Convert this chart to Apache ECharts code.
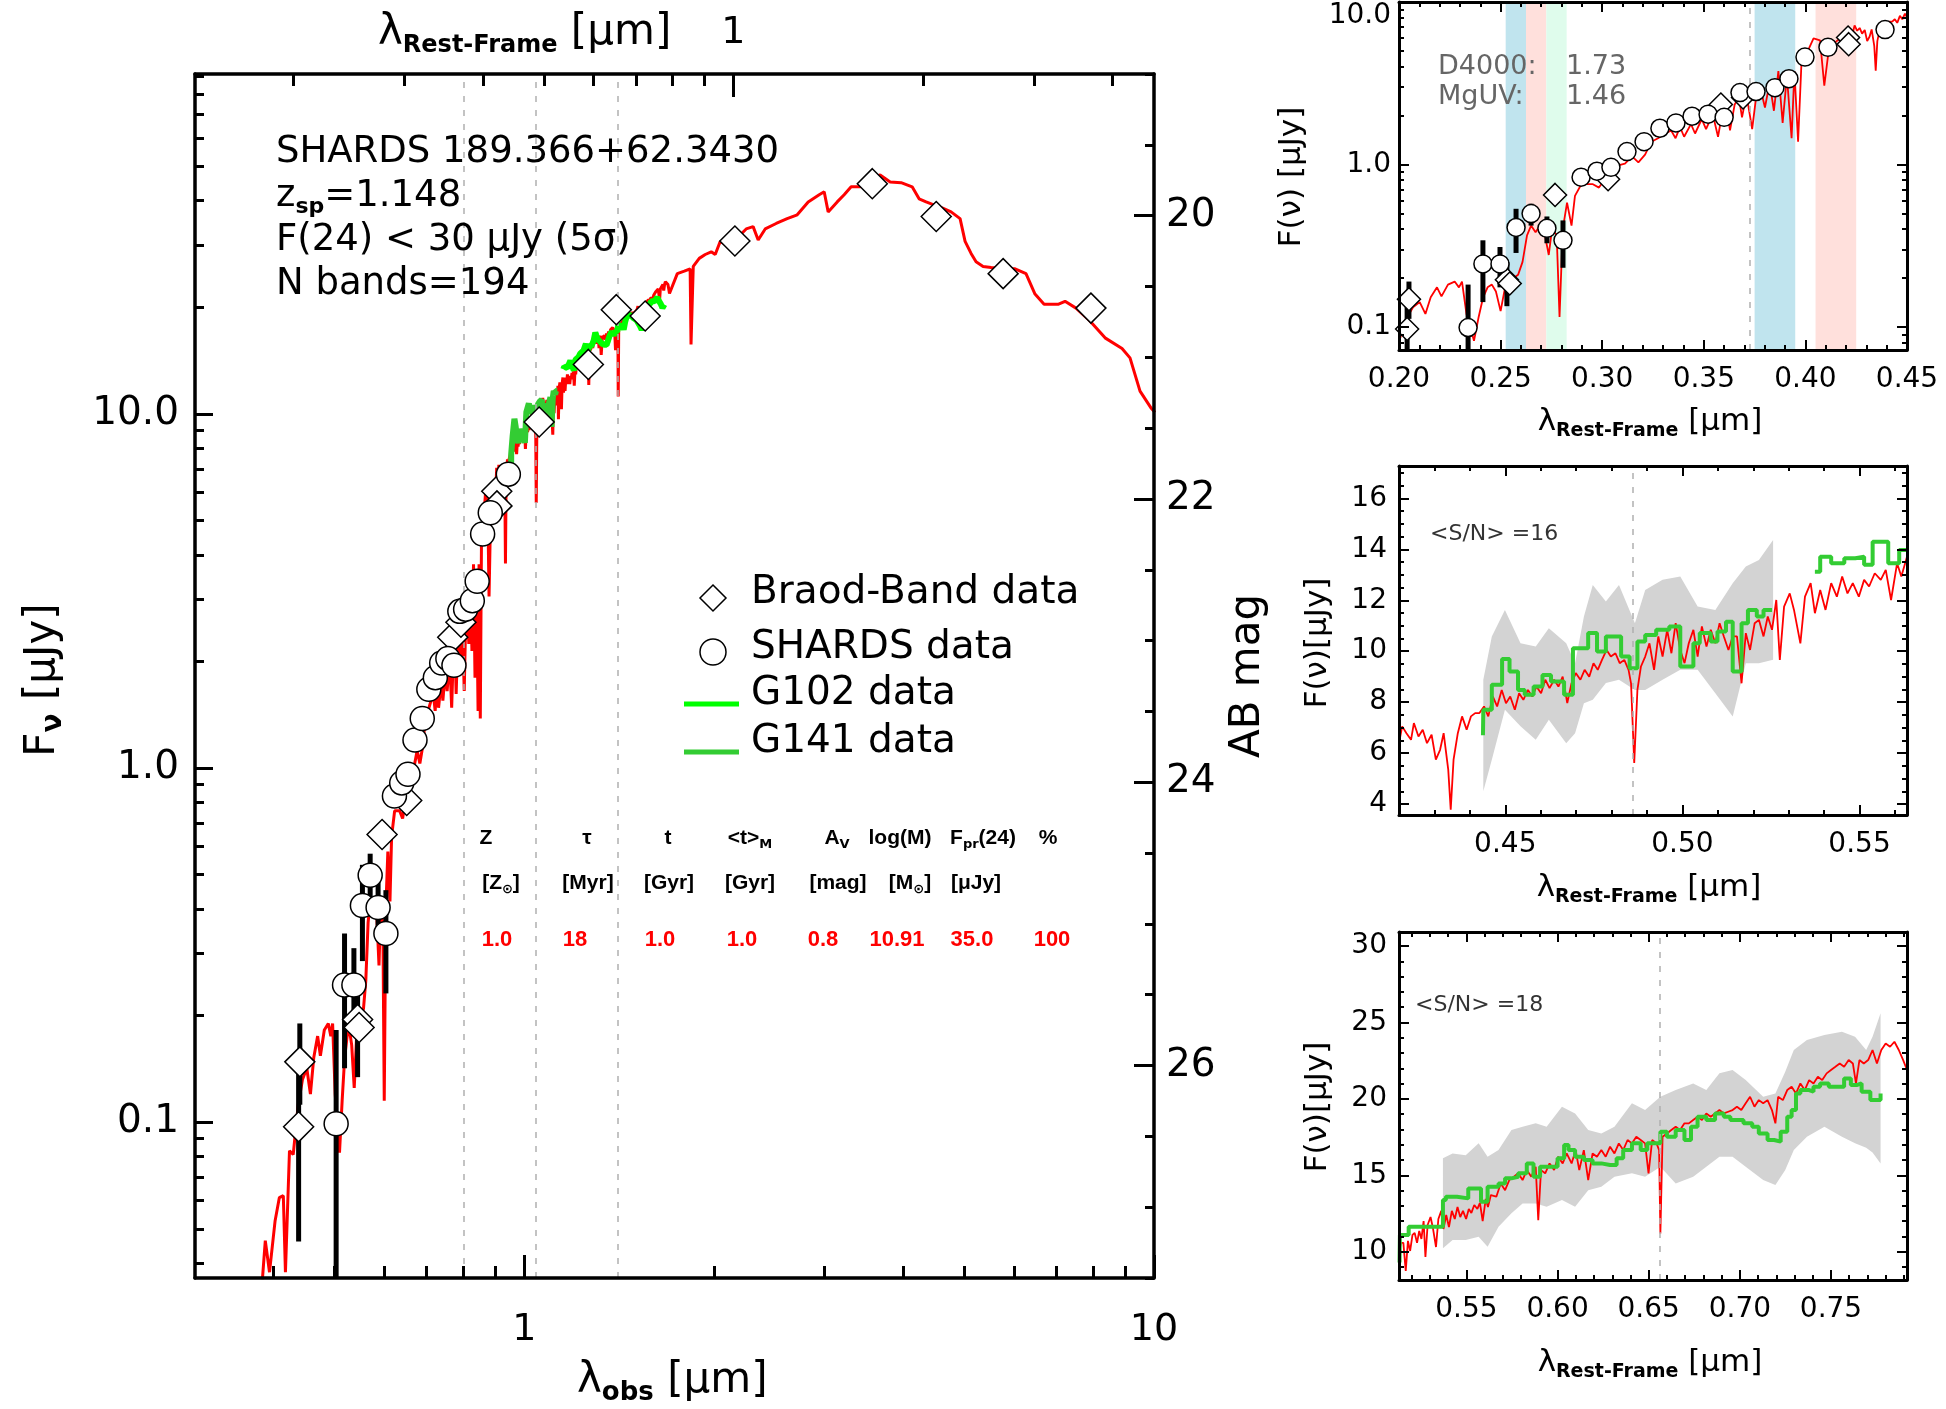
<!DOCTYPE html>
<html><head><meta charset="utf-8">
<script src="https://cdn.jsdelivr.net/npm/echarts@6.0.0/dist/echarts.min.js"></script>
<style>html,body{margin:0;padding:0;background:#fff}#c{width:1946px;height:1409px}</style>
</head><body><div id="c"></div>
<script>
// ---------------- DATA ----------------
const Z = 1.148;
// model SED (rest-frame micron, microJy)
const modelHead = [[0.1787,0.036],[0.1806,0.0463],[0.1834,0.0377],[0.1872,0.0527],[0.1901,0.0612],[0.1929,0.062],[0.1944,0.0377],[0.1973,0.083]];
const modelUV = [[0.2000,0.081],[0.2037,0.112],[0.2069,0.132],[0.2102,0.142],[0.2130,0.120],[0.2156,0.152],[0.2187,0.175],[0.2209,0.154],[0.2241,0.182],[0.2274,0.190],[0.2295,0.175],[0.2310,0.190],[0.2332,0.120],[0.2350,0.100],[0.2369,0.082],[0.2392,0.115],[0.2414,0.152],[0.2436,0.175],[0.2457,0.182],[0.2477,0.165],[0.2500,0.125],[0.2522,0.175],[0.2554,0.195],[0.2586,0.209],[0.2608,0.251],[0.2630,0.366],[0.2650,0.420],[0.2672,0.382],[0.2694,0.420],[0.2714,0.390],[0.2737,0.277],[0.2753,0.400],[0.2776,0.366],[0.2790,0.115],[0.2806,0.400],[0.2827,0.581],[0.2849,0.420],[0.2866,0.640],[0.2898,0.757],[0.2952,0.757],[0.2984,0.720],[0.3017,0.822],[0.3060,0.972],[0.3112,1.01],[0.3147,1.12],[0.3178,1.03],[0.3211,1.15],[0.3242,1.38],[0.3275,1.45],[0.3307,1.54],[0.3339,1.62],[0.3361,1.45],[0.3383,1.70],[0.3403,1.48],[0.3437,1.77],[0.3457,1.55],[0.3490,1.90],[0.3511,1.65],[0.3544,2.04],[0.3570,1.48],[0.3587,1.95],[0.3614,2.18],[0.3629,1.62],[0.3652,2.34],[0.3673,2.58],[0.3688,1.95],[0.3710,2.69],[0.3738,1.65],[0.3759,2.69],[0.3781,2.85],[0.3801,2.24],[0.3824,3.19],[0.3845,2.14],[0.3867,3.76],[0.3888,1.80],[0.3909,3.50],[0.3932,1.45],[0.3946,3.76],[0.3964,1.38],[0.3981,4.33],[0.4007,4.84],[0.4040,5.97],[0.4072,5.80],[0.4093,3.05],[0.4116,5.20],[0.4158,5.80]];
const modelMid = [[0.4200,6.39],[0.4209,7.05],[0.4221,6.78],[0.4234,6.52],[0.4242,7.18],[0.4255,6.65],[0.4267,6.92],[0.4279,6.39],[0.4292,6.72],[0.4304,5.74],[0.4316,6.13],[0.4326,6.78],[0.4339,5.35],[0.4346,3.78],[0.4354,5.74],[0.4366,6.78],[0.4378,7.44],[0.4391,6.92],[0.4403,7.44],[0.4415,7.57],[0.4427,7.57],[0.4440,7.83],[0.4452,7.44],[0.4465,8.22],[0.4477,7.83],[0.4490,8.48],[0.4502,7.96],[0.4514,8.22],[0.4527,7.70],[0.4539,8.35],[0.4551,8.09],[0.4564,8.48],[0.4576,8.22],[0.4588,8.61],[0.4601,8.35],[0.4613,8.88],[0.4625,8.55],[0.4638,8.88],[0.4650,8.61],[0.4662,9.00],[0.4675,7.96],[0.4687,8.74],[0.4699,9.14],[0.4712,8.88],[0.4724,9.27],[0.4737,9.00],[0.4749,9.53],[0.4761,9.27],[0.4773,9.66],[0.4786,10.05],[0.4798,9.79],[0.4811,9.92],[0.4823,9.53],[0.4836,9.66],[0.4848,9.27],[0.4855,8.74],[0.4864,5.61],[0.4873,8.48],[0.4883,9.40],[0.4895,9.79],[0.4907,10.31],[0.4920,9.27],[0.4932,10.58],[0.4944,9.79],[0.4957,10.84],[0.4969,9.92],[0.4981,11.10],[0.4994,10.05],[0.5006,9.53],[0.5018,10.31],[0.5031,10.84],[0.5043,9.79],[0.5055,10.97],[0.5068,10.18],[0.5080,10.84],[0.5093,10.31],[0.5105,11.10],[0.5117,10.58],[0.5130,10.05],[0.5142,10.58],[0.5154,10.58],[0.5167,8.74],[0.5179,10.71],[0.5191,10.05],[0.5204,11.10],[0.5216,11.23],[0.5229,10.58],[0.5241,11.36],[0.5253,10.84],[0.5265,12.01],[0.5275,9.66],[0.5287,11.75],[0.5303,12.27],[0.5315,11.62],[0.5333,10.31],[0.5346,12.14],[0.5362,12.67],[0.5374,11.49],[0.5389,12.40],[0.5404,11.62],[0.5420,12.67],[0.5436,12.14],[0.5451,12.93],[0.5466,12.27],[0.5481,12.67],[0.5498,12.14],[0.5513,12.80],[0.5527,12.54],[0.5543,13.06],[0.5560,12.80],[0.5574,13.19],[0.5589,12.01],[0.5606,13.45],[0.5618,12.93],[0.5634,13.71]];
const modelBot = [[0.5664,13.60],[0.5688,14.47],[0.5712,14.03],[0.5735,14.69],[0.5760,14.91],[0.5784,15.13],[0.5808,14.69],[0.5831,15.34],[0.5856,14.91],[0.5880,15.56],[0.5894,12.07],[0.5909,15.34],[0.5932,15.13],[0.5956,15.78],[0.5981,15.34],[0.6003,16.22],[0.6028,15.78],[0.6050,16.43],[0.6077,15.78],[0.6099,16.65],[0.6119,15.34],[0.6144,16.65],[0.6168,14.69],[0.6192,16.43],[0.6216,16.22],[0.6240,16.65],[0.6264,16.22],[0.6288,16.87],[0.6312,16.43],[0.6336,17.09],[0.6360,16.65],[0.6384,17.31],[0.6408,17.09],[0.6432,17.52],[0.6456,17.31],[0.6480,17.09],[0.6499,15.13],[0.6519,17.31],[0.6543,17.09],[0.6557,16.65],[0.6564,11.20],[0.6576,17.52],[0.6600,17.74],[0.6624,17.96],[0.6648,18.18],[0.6672,17.96],[0.6696,18.40],[0.6720,18.40],[0.6744,18.62],[0.6768,18.83],[0.6792,18.62],[0.6816,19.05],[0.6840,18.83],[0.6864,19.05],[0.6888,19.27],[0.6912,19.05],[0.6936,19.16],[0.6960,19.27],[0.6984,19.49],[0.7008,19.27],[0.7032,19.71],[0.7056,20.14],[0.7080,19.49],[0.7104,19.92],[0.7128,19.71],[0.7152,19.92],[0.7176,19.27],[0.7195,18.40],[0.7210,20.14],[0.7236,19.92],[0.7260,20.58],[0.7284,20.80],[0.7308,20.36],[0.7332,21.01],[0.7356,20.58],[0.7380,21.23],[0.7404,21.01],[0.7428,21.45],[0.7452,21.23],[0.7476,21.67],[0.7500,21.89],[0.7524,22.10],[0.7548,22.32],[0.7572,22.10],[0.7597,22.54],[0.7620,22.32],[0.7637,21.01],[0.7656,22.54],[0.7680,22.32],[0.7704,22.54],[0.7728,23.20],[0.7752,22.32],[0.7776,23.20],[0.7800,23.63],[0.7824,23.41],[0.7848,23.74],[0.7872,23.20],[0.7896,22.54],[0.7917,21.89]];
const modelTail = [[0.8147,24.9],[0.8357,25.3],[0.8538,25.7],[0.8566,15.7],[0.8636,26.1],[0.8827,27.5],[0.9022,28.2],[0.9223,28.7],[0.9358,28.2],[0.9530,30.7],[0.9739,30.1],[1.0065,31.0],[1.048,33.3],[1.075,33.8],[1.095,31.0],[1.1234,33.3],[1.1695,34.5],[1.2174,35.6],[1.263,36.5],[1.3147,39.7],[1.3687,41.6],[1.3939,42.4],[1.4143,37.2],[1.4618,39.7],[1.4995,41.6],[1.5382,43.8],[1.5898,43.8],[1.6252,45.2],[1.6611,46.1],[1.7104,47.3],[1.7742,45.2],[1.8468,45.0],[1.9227,43.8],[1.9721,40.5],[2.0233,39.7],[2.0764,39.0],[2.1453,38.2],[2.2170,37.2],[2.2910,35.6],[2.3333,30.7],[2.3850,28.4],[2.4288,26.9],[2.4920,26.1],[2.5666,25.9],[2.6806,25.7],[2.8012,25.7],[2.9153,24.9],[3.0130,21.8],[3.1145,20.4],[3.2775,20.4],[3.3627,20.8],[3.5000,19.9],[3.6839,18.3],[3.8925,16.4],[4.1420,15.3],[4.2644,14.4],[4.4236,11.6],[4.6043,10.4],[4.6740,10.1]];
// grism spectra (rest-frame bin start, flux)
const g102Mid = [[0.4437,6.7],[0.4438,7.7],[0.4462,8.68],[0.4491,9.69],[0.4512,9.2],[0.4536,8.48],[0.4555,8.29],[0.4580,8.61],[0.4605,9.07],[0.4629,8.81],[0.4666,8.29],[0.4691,10.12],[0.4734,10.71],[0.4759,9.99],[0.4784,10.58],[0.4827,9.79],[0.4851,9.33],[0.4873,10.38],[0.4895,10.64],[0.4926,10.84],[0.4963,10.97],[0.4994,9.4],[0.5031,10.31],[0.5049,10.71],[0.5080,10.38],[0.5099,10.77],[0.5123,11.16],[0.5142,9.2],[0.5167,11.1],[0.5185,11.62],[0.5210,11.36],[0.5229,11.62],[0.5253,11.62]];
const g141Mid = [[0.5374,13.12],[0.5389,13.71],[0.5420,13.45],[0.5457,13.65],[0.5488,13.71],[0.5513,13.39],[0.5537,14.3],[0.5581,13.45],[0.5612,13.97],[0.5634,13.97]];
const g141Bot = [[0.5133,9.3],[0.5135,11.09],[0.5183,11.64],[0.5256,11.64],[0.5371,13.38],[0.5387,13.6],[0.5448,13.49],[0.5510,14.14],[0.5580,13.27],[0.5616,14.25],[0.5676,14.47],[0.5712,14.8],[0.5747,14.9],[0.5784,15.13],[0.5831,15.78],[0.5868,14.9],[0.5904,15.56],[0.5952,15.56],[0.6000,16.11],[0.6036,16.98],[0.6060,16.65],[0.6096,16.22],[0.6144,16.0],[0.6192,15.78],[0.6240,15.67],[0.6288,15.67],[0.6324,16.11],[0.6360,16.65],[0.6408,17.09],[0.6456,16.65],[0.6492,17.09],[0.6540,17.09],[0.6564,17.85],[0.6600,17.52],[0.6648,17.96],[0.6696,17.31],[0.6732,18.18],[0.6768,18.83],[0.6816,18.62],[0.6864,19.05],[0.6912,18.83],[0.6948,18.62],[0.6984,18.62],[0.7020,18.4],[0.7068,18.18],[0.7104,17.74],[0.7152,17.31],[0.7188,17.2],[0.7224,17.85],[0.7260,18.83],[0.7284,19.27],[0.7308,20.36],[0.7332,20.58],[0.7380,20.47],[0.7404,20.8],[0.7440,21.01],[0.7488,20.8],[0.7536,20.8],[0.7572,21.34],[0.7609,20.91],[0.7644,21.01],[0.7668,20.47],[0.7716,19.92],[0.7772,20.36]];
// grism uncertainty envelopes [rest wave, low, high]
const envMid = [[0.4438,4.5,8.88],[0.4462,5.74,10.58],[0.4499,7.7,11.62],[0.4543,7.05,10.31],[0.4586,6.52,10.18],[0.4623,7.31,10.9],[0.4672,6.39,10.31],[0.4697,6.78,9.53],[0.4722,7.96,11.36],[0.4747,8.09,12.6],[0.4784,8.75,11.95],[0.4821,8.88,12.6],[0.4866,8.48,11.1],[0.4895,8.48,12.4],[0.4944,8.88,12.8],[0.4994,9.27,12.93],[0.5043,9.27,11.75],[0.5093,8.35,11.62],[0.5142,7.44,12.67],[0.5179,9.53,13.32],[0.5216,9.53,13.58],[0.5256,9.66,14.37]];
const envBot = [[0.5371,10.22,16.11],[0.5424,10.76,16.43],[0.5496,10.76,16.32],[0.5567,10.98,17.09],[0.5616,10.33,16.22],[0.5676,11.64,16.65],[0.5747,12.51,17.96],[0.5808,13.16,18.18],[0.5880,13.16,18.40],[0.5940,12.94,18.18],[0.6024,13.38,19.49],[0.6096,12.94,19.05],[0.6168,14.03,17.96],[0.6240,14.25,17.74],[0.6312,14.91,18.18],[0.6408,15.13,19.71],[0.6480,14.91,19.27],[0.6564,15.56,20.14],[0.6648,14.47,20.58],[0.6744,14.91,21.01],[0.6816,15.56,20.58],[0.6888,16.22,21.67],[0.6960,16.22,21.89],[0.7032,15.56,21.23],[0.7128,14.69,20.14],[0.7195,14.36,20.36],[0.7249,15.34,21.78],[0.7296,16.65,23.20],[0.7368,17.52,23.85],[0.7464,18.18,24.18],[0.7560,17.52,24.39],[0.7632,17.09,24.07],[0.7693,16.80,23.20],[0.7728,16.50,24.07],[0.7772,15.78,25.60]];
// photometry [rest wave, flux, err low, err high]
const shards = [[0.2340,0.099,0.03,0.182],[0.2413,0.244,0.142,0.341],[0.2497,0.244,0.175,0.31],[0.2576,0.409,0.285,0.533],[0.2650,0.498,0.42,0.573],[0.2728,0.404,0.327,0.478],[0.2807,0.341,0.231,0.452],[0.2896,0.834,null,null],[0.2974,0.908,null,null],[0.3043,0.96,null,null],[0.3122,1.2,null,null],[0.3206,1.38,null,null],[0.3284,1.67,null,null],[0.3363,1.80,null,null],[0.3442,1.98,null,null],[0.3521,2.04,null,null],[0.3600,1.95,null,null],[0.3678,2.77,null,null],[0.3757,2.81,null,null],[0.3850,2.97,null,null],[0.3919,3.37,null,null],[0.3998,4.58,null,null],[0.4111,5.26,null,null],[0.4392,6.76,null,null]];
const broadband = [[0.2049,0.148,0.112,0.19],[0.2040,0.097,0.046,0.14],[0.2531,0.195,0.134,0.251],[0.2545,0.185,null,null],[0.2768,0.649,null,null],[0.3029,0.81,null,null],[0.3584,2.34,null,null],[0.3693,2.58,null,null],[0.4210,6.05,null,null],[0.4213,5.5,null,null],[0.4916,9.49,null,null],[0.5885,13.8,null,null],[0.6518,19.7,null,null],[0.7244,18.9,null,null],[1.0056,30.8,null,null],[1.6620,44.7,null,null],[2.0996,36.1,null,null],[2.6816,24.9,null,null],[3.6965,19.9,null,null]];
const restLines = [0.3727, 0.4861, 0.6563];
const uvBands = [[0.2525,0.2625,'#c0e4ee'],[0.2625,0.2725,'#ffe0dc'],[0.2725,0.2825,'#dffcec'],[0.375,0.395,'#c0e4ee'],[0.405,0.425,'#ffe0dc']];
// tick labels
const mainXLabels = [1, 10];
const mainTopLabels = [1];
const mainYLabels = [0.1, 1, 10];
const abLabels = [20, 22, 24, 26];
const uvXLabels = [0.20, 0.25, 0.30, 0.35, 0.40, 0.45];
const uvYLabels = [0.1, 1, 10];
const midXLabels = [0.45, 0.50, 0.55];
const midYLabels = [4, 6, 8, 10, 12, 14, 16];
const botXLabels = [0.55, 0.60, 0.65, 0.70, 0.75];
const botYLabels = [10, 15, 20, 25, 30];
// text content
const infoLines = ['SHARDS 189.366+62.3430', 'z|sp|=1.148', 'F(24) < 30 μJy (5σ)', 'N bands=194'];
const legendNames = ['Braod-Band data', 'SHARDS data', 'G102 data', 'G141 data'];
const tableHead = ['{h|Z}', '{h|τ}', '{h|t}', '{h|<t>}{hs|M}', '{h|A}{hs|V}', '{h|log(M)}', '{h|F}{hs|pr}{h|(24)}', '{h|%}'];
const tableUnits = ['{h|[Z}{hs|⊙}{h|]}', '{h|[Myr]}', '{h|[Gyr]}', '{h|[Gyr]}', '{h|[mag]}', '{h|[M}{hs|⊙}{h|]}', '{h|[μJy]}'];
const tableValues = ['1.0', '18', '1.0', '1.0', '0.8', '10.91', '35.0', '100'];
const indexNames = ['D4000:', 'MgUV:'];
const indexValues = ['1.73', '1.46'];
const snMid = '<S/N> =16', snBot = '<S/N> =18';

// ---------------- BUILD ----------------
const FONT = 'DejaVu Sans';
const obs = w => w * (1 + Z);
const model = modelHead.concat(modelUV, modelMid, modelBot, modelTail);
const modelObs = model.map(p => [obs(p[0]), p[1]]);

function logMinor(lo, hi) { const out = []; for (let e = -2; e <= 2; e++) for (let m = 2; m <= 9; m++) { const v = +(m * Math.pow(10, e)).toPrecision(3); if (v > lo && v < hi) out.push(v); } return out; }
function linMinor(lo, hi, step, maj) { const out = []; const n0 = Math.ceil(lo / step - 1e-9), n1 = Math.floor(hi / step + 1e-9); for (let n = n0; n <= n1; n++) { const v = +(n * step).toFixed(4); const r = v / maj; if (Math.abs(r - Math.round(r)) > 1e-6) out.push(v); } return out; }
const fmtLog = v => { const r = Math.round(v * 1000) / 1000; return r < 1 ? String(r) : r.toFixed(1); };

function mk(type, grid, pos, min, max, ticks, len, o) {
  const a = {
    type, gridIndex: grid, position: pos, min, max,
    axisLine: { show: !!o.line, onZero: false, lineStyle: { color: '#000', width: o.lw || 3 } },
    axisTick: { show: true, inside: true, length: len, customValues: ticks, lineStyle: { color: '#000', width: o.tw || 2 } },
    axisLabel: o.values ? { show: true, customValues: o.values, formatter: o.fmt, fontSize: o.fs, fontFamily: FONT, color: '#000', margin: o.margin } : { show: false },
    splitLine: { show: false }, minorTick: { show: false }, splitArea: { show: false },
    axisPointer: { show: false }, silent: true, z: 20
  };
  if (type === 'log') a.logBase = 10;
  if (o.inverse) a.inverse = true;
  if (o.vmax) a.axisLabel.verticalAlignMaxLabel = o.vmax;
  return a;
}
const xAxes = [], yAxes = [];
// main grid 0
const mxMin = 0.3, mxMax = 10, myMin = 0.0363, myMax = 91.2;
xAxes.push(mk('log', 0, 'bottom', mxMin, mxMax, mainXLabels, 23, { line: true, lw: 3.5, tw: 3, values: mainXLabels, fmt: v => String(Math.round(v)), fs: 38, margin: 33 }));
xAxes.push(mk('log', 0, 'bottom', mxMin, mxMax, logMinor(mxMin, mxMax), 12, { tw: 3 }));
xAxes.push(mk('log', 0, 'top', mxMin / (1 + Z), mxMax / (1 + Z), mainTopLabels, 23, { line: true, lw: 3.5, tw: 3, values: mainTopLabels, fmt: v => String(Math.round(v)), fs: 38, margin: 22 }));
xAxes.push(mk('log', 0, 'top', mxMin / (1 + Z), mxMax / (1 + Z), logMinor(mxMin / (1 + Z), mxMax / (1 + Z)), 12, { tw: 3 }));
yAxes.push(mk('log', 0, 'left', myMin, myMax, mainYLabels, 18, { line: true, lw: 3.5, tw: 3, values: mainYLabels, fmt: fmtLog, fs: 39, margin: 16 }));
yAxes.push(mk('log', 0, 'left', myMin, myMax, logMinor(myMin, myMax), 9, { tw: 3 }));
yAxes.push(mk('value', 0, 'right', 19, 27.5, abLabels, 20, { line: true, lw: 3.5, tw: 3, values: abLabels, fmt: v => String(v), fs: 39, margin: 12, inverse: true }));
yAxes.push(mk('value', 0, 'right', 19, 27.5, linMinor(19, 27.5, 0.5, 2), 9, { tw: 3, inverse: true }));

function inset(g, x, y) {
  xAxes.push(mk('value', g, 'bottom', x.min, x.max, x.labels, 10, { line: true, values: x.labels, fmt: v => v.toFixed(2), fs: 28, margin: 16 }));
  xAxes.push(mk('value', g, 'bottom', x.min, x.max, x.minor, 5, {}));
  xAxes.push(mk('value', g, 'top', x.min, x.max, x.labels, 10, { line: true }));
  xAxes.push(mk('value', g, 'top', x.min, x.max, x.minor, 5, {}));
  yAxes.push(mk(y.type, g, 'left', y.min, y.max, y.labels, 10, { line: true, values: y.labels, fmt: y.fmt, fs: 28, margin: y.margin, vmax: y.vmax }));
  yAxes.push(mk(y.type, g, 'left', y.min, y.max, y.minor, 5, {}));
  yAxes.push(mk(y.type, g, 'right', y.min, y.max, y.labels, 10, { line: true }));
  yAxes.push(mk(y.type, g, 'right', y.min, y.max, y.minor, 5, {}));
}
const uvX = { min: 0.2, max: 0.45 }, uvY = { min: 0.072, max: 10 };
inset(1, { min: uvX.min, max: uvX.max, labels: uvXLabels, minor: linMinor(0.2, 0.45, 0.01, 0.05) },
  { type: 'log', min: uvY.min, max: uvY.max, labels: uvYLabels, minor: logMinor(uvY.min, uvY.max), fmt: fmtLog, margin: 8, vmax: 'top' });
const midX = { min: 0.42, max: 0.5634 }, midY = { min: 3.57, max: 17.27 };
inset(2, { min: midX.min, max: midX.max, labels: midXLabels, minor: linMinor(midX.min, midX.max, 0.01, 0.05) },
  { type: 'value', min: midY.min, max: midY.max, labels: midYLabels, minor: linMinor(midY.min, midY.max, 0.5, 2), fmt: v => String(v), margin: 12 });
const botX = { min: 0.513, max: 0.7917 }, botY = { min: 8.15, max: 30.92 };
inset(3, { min: botX.min, max: botX.max, labels: botXLabels, minor: linMinor(botX.min, botX.max, 0.01, 0.05) },
  { type: 'value', min: botY.min, max: botY.max, labels: botYLabels, minor: linMinor(botY.min, botY.max, 1, 5), fmt: v => String(v), margin: 12 });

// series helpers
function lineS(ai, data, color, width, z, extra) {
  return Object.assign({ type: 'line', xAxisIndex: ai, yAxisIndex: ai, data, symbol: 'none', showSymbol: false, clip: true, silent: true, z,
    lineStyle: { color, width }, itemStyle: { color }, emphasis: { disabled: true } }, extra || {});
}
function dashLines(vals) {
  return { silent: true, symbol: 'none', precision: 6, animation: false, label: { show: false }, emphasis: { disabled: true },
    lineStyle: { color: '#b0b0b0', type: [6, 8], width: 1.5 }, data: vals.map(v => ({ xAxis: v })) };
}
function errS(ai, pts, width) {
  return { type: 'custom', xAxisIndex: ai, yAxisIndex: ai, z: 4, silent: true, clip: true, data: pts, encode: { x: 0, y: [1, 2] },
    renderItem: (p, api) => {
      const cs = p.coordSys;
      const a = api.coord([api.value(0), api.value(1)]), b = api.coord([api.value(0), api.value(2)]);
      const cl = v => Math.max(cs.y, Math.min(cs.y + cs.height, v));
      if (a[0] < cs.x || a[0] > cs.x + cs.width) return null;
      return { type: 'line', shape: { x1: a[0], y1: cl(a[1]), x2: b[0], y2: cl(b[1]) }, style: { stroke: '#000', lineWidth: width } };
    } };
}
function scatS(ai, data, symbol, size, z) {
  return { type: 'scatter', xAxisIndex: ai, yAxisIndex: ai, data, symbol, symbolSize: size, clip: true, silent: true, z,
    itemStyle: { color: '#fff', borderColor: '#000', borderWidth: 1.5, opacity: 1 }, emphasis: { disabled: true } };
}
function envS(ai, env) {
  return { type: 'custom', xAxisIndex: ai, yAxisIndex: ai, z: 1, silent: true, data: [[env[0][0], env[0][1]]],
    renderItem: (p, api) => {
      const pts = env.map(e => api.coord([e[0], e[2]]));
      for (let i = env.length - 1; i >= 0; i--) pts.push(api.coord([env[i][0], env[i][1]]));
      return { type: 'polygon', shape: { points: pts }, style: { fill: '#d3d3d3' } };
    } };
}
const errPts = (arr, f) => arr.filter(p => p[2] != null).map(p => [f(p[0]), p[2], p[3]]);
const inRange = (vals, r) => vals.filter(v => v > r.min && v < r.max);

const series = [
  // main panel
  lineS(0, modelObs, '#ff0000', 3, 2, { markLine: dashLines(restLines.map(obs)) }),
  lineS(0, g102Mid.map(p => [obs(p[0]), p[1]]), '#33cc33', 6, 3),
  lineS(0, g141Bot.filter(p => p[0] >= 0.537).map(p => [obs(p[0]), p[1]]), '#00ff00', 6, 3),
  errS(0, errPts(broadband, obs).concat(errPts(shards, obs)), 5),
  scatS(0, broadband.map(p => [obs(p[0]), p[1]]), 'diamond', 30, 5),
  scatS(0, shards.map(p => [obs(p[0]), p[1]]), 'circle', 24, 6),
  // UV inset
  { type: 'custom', xAxisIndex: 4, yAxisIndex: 4, z: 0, silent: true, data: uvBands.map(b => [b[0], b[1]]),
    renderItem: (p, api) => {
      const cs = p.coordSys; const a = api.coord([api.value(0), uvY.max]); const b = api.coord([api.value(1), uvY.max]);
      return { type: 'rect', shape: { x: a[0], y: cs.y, width: b[0] - a[0], height: cs.height }, style: { fill: uvBands[p.dataIndex][2] } };
    } },
  lineS(4, model, '#ff0000', 1.8, 2, { markLine: dashLines(inRange(restLines, uvX)) }),
  errS(4, errPts(broadband, w => w).concat(errPts(shards, w => w)), 5),
  scatS(4, broadband.map(p => [p[0], p[1]]), 'diamond', 23, 5),
  scatS(4, shards.map(p => [p[0], p[1]]), 'circle', 18, 6),
  // middle inset
  envS(8, envMid),
  lineS(8, model, '#ff0000', 1.8, 2, { markLine: dashLines(inRange(restLines, midX)) }),
  lineS(8, g102Mid, '#33cc33', 4, 3, { step: 'end' }),
  lineS(8, g141Mid, '#33cc33', 4, 3, { step: 'end' }),
  // bottom inset
  envS(12, envBot),
  lineS(12, model, '#ff0000', 1.8, 2, { markLine: dashLines(inRange(restLines, botX)) }),
  lineS(12, g141Bot, '#33cc33', 4, 3, { step: 'end' })
];

// ---------------- TEXT ----------------
function txt(x, y, text, fs, o) {
  o = o || {};
  return { type: 'text', x, y, rotation: o.rot || 0, z: 100, silent: true,
    style: { text, fontSize: fs, fontFamily: o.font || FONT, fontWeight: o.weight || 'normal', fill: o.fill || '#000',
      align: o.align || 'left', verticalAlign: 'middle', rich: o.rich } };
}
function subRich(big, small, fill) {
  return { l: { fontSize: big, fontFamily: FONT, fill: fill || '#000', lineHeight: Math.round(big * 1.2) },
           s: { fontSize: small, fontFamily: FONT, fontWeight: 'bold', fill: fill || '#000', lineHeight: small, verticalAlign: 'bottom' } };
}
const lamRest = '{l|λ}{s|Rest-Frame} {l|[μm]}';
const g = [];
// main titles
g.push(txt(378, 33, lamRest, 42, { rich: subRich(42, 24) }));
g.push(txt(577, 1381, '{l|λ}{s|obs} {l|[μm]}', 42, { rich: subRich(42, 26) }));
g.push(txt(43, 680, '{l|F}{s|ν} {l|[μJy]}', 42, { rot: Math.PI / 2, align: 'center', rich: subRich(42, 28) }));
g.push(txt(1248, 676, 'AB mag', 42, { rot: Math.PI / 2, align: 'center' }));
// info block
const infoY = [152, 196, 240, 284];
infoLines.forEach((s, i) => {
  if (s.indexOf('|') >= 0) { const q = s.split('|'); g.push(txt(276, infoY[i], '{l|' + q[0] + '}{s|' + q[1] + '}{l|' + q[2] + '}', 37, { rich: subRich(37, 22) })); }
  else g.push(txt(276, infoY[i], s, 37));
});
// legend
g.push({ type: 'polygon', z: 100, silent: true, shape: { points: [[713, 585], [726, 598], [713, 611], [700, 598]] }, style: { fill: '#fff', stroke: '#000', lineWidth: 1.5 } });
g.push({ type: 'circle', z: 100, silent: true, shape: { cx: 713, cy: 652, r: 13 }, style: { fill: '#fff', stroke: '#000', lineWidth: 1.5 } });
g.push({ type: 'line', z: 100, silent: true, shape: { x1: 684, y1: 704, x2: 739, y2: 704 }, style: { stroke: '#00ff00', lineWidth: 5 } });
g.push({ type: 'line', z: 100, silent: true, shape: { x1: 684, y1: 752, x2: 739, y2: 752 }, style: { stroke: '#33cc33', lineWidth: 5 } });
const legY = [593, 648, 694, 742];
legendNames.forEach((s, i) => g.push(txt(751, legY[i], s, 39)));
// table
const tRich = { h: { fontSize: 21, fontFamily: 'Liberation Sans', fontWeight: 'bold', fill: '#000', lineHeight: 26 },
                hs: { fontSize: 13, fontFamily: 'DejaVu Sans', fontWeight: 'bold', fill: '#000', lineHeight: 13, verticalAlign: 'bottom' } };
const headX = [486, 587, 668, 750, 837, 900, 983, 1048];
const unitX = [501, 588, 669, 750, 838, 910, 976];
const valX = [497, 575, 660, 742, 823, 897, 972, 1052];
tableHead.forEach((s, i) => g.push(txt(headX[i], 838, s, 21, { align: 'center', rich: tRich })));
tableUnits.forEach((s, i) => g.push(txt(unitX[i], 883, s, 21, { align: 'center', rich: tRich })));
tableValues.forEach((s, i) => g.push(txt(valX[i], 940, s, 22, { align: 'center', font: 'Liberation Sans', weight: 'bold', fill: '#ff0000' })));
// UV inset texts
g.push(txt(1650, 422, lamRest, 31, { align: 'center', rich: subRich(31, 19) }));
g.push(txt(1292, 177, 'F(ν) [μJy]', 31, { rot: Math.PI / 2, align: 'center' }));
indexNames.forEach((s, i) => { g.push(txt(1438, [67, 97][i], s, 27, { fill: '#666' })); g.push(txt(1566, [67, 97][i], indexValues[i], 27, { fill: '#666' })); });
// middle inset texts
g.push(txt(1649, 888, lamRest, 31, { align: 'center', rich: subRich(31, 19) }));
g.push(txt(1318, 643, 'F(ν)[μJy]', 31, { rot: Math.PI / 2, align: 'center' }));
g.push(txt(1430, 534, snMid, 22, { fill: '#333' }));
// bottom inset texts
g.push(txt(1650, 1363, lamRest, 31, { align: 'center', rich: subRich(31, 19) }));
g.push(txt(1318, 1107, 'F(ν)[μJy]', 31, { rot: Math.PI / 2, align: 'center' }));
g.push(txt(1415, 1005, snBot, 22, { fill: '#333' }));

const chart = echarts.init(document.getElementById('c'), null, { renderer: 'canvas', width: 1946, height: 1409 });
chart.setOption({
  animation: false,
  backgroundColor: '#ffffff',
  grid: [
    { left: 195, top: 74, width: 959, height: 1204, show: false, containLabel: false, outerBoundsMode: 'none' },
    { left: 1399, top: 2, width: 508, height: 348, show: false, containLabel: false, outerBoundsMode: 'none' },
    { left: 1399, top: 466, width: 508, height: 349, show: false, containLabel: false, outerBoundsMode: 'none' },
    { left: 1399, top: 932, width: 508, height: 348, show: false, containLabel: false, outerBoundsMode: 'none' }
  ],
  xAxis: xAxes,
  yAxis: yAxes,
  series,
  graphic: { elements: g }
});
</script></body></html>
